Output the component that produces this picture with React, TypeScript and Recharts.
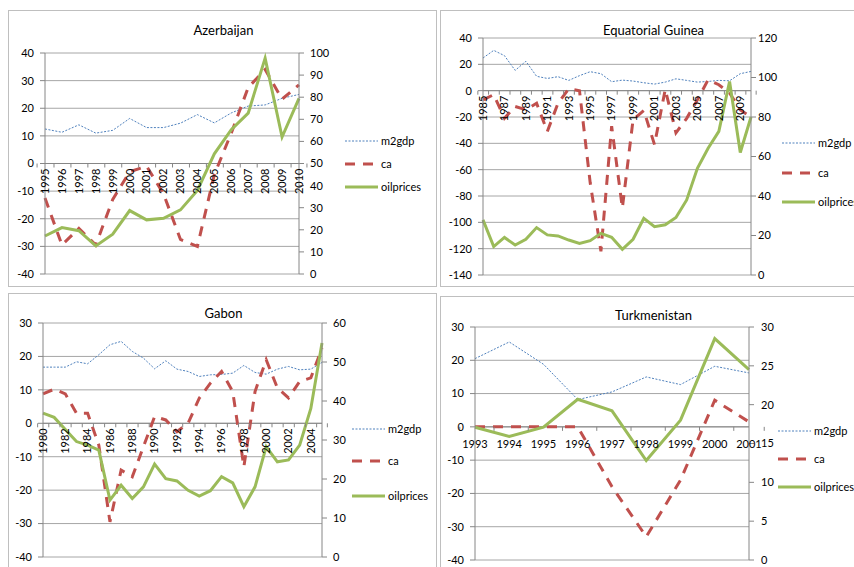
import { CartesianGrid, Line, LineChart, ReferenceLine, XAxis, YAxis } from "recharts";

// Azerbaijan
const AZ_YEARS = ["1995", "1996", "1997", "1998", "1999", "2000", "2001", "2002", "2003", "2004", "2005", "2006", "2007", "2008", "2009", "2010"];
const AZ_M2GDP = [12.5, 11.3, 14, 11, 12, 16.3, 13, 13, 14.6, 17.7, 14.7, 18.3, 20.8, 21.2, 23.6, 25];
const AZ_CA = [-12.5, -29.5, -23.5, -29.5, -13, -3, -1, -11, -27.5, -30, -4, 11, 27.5, 34, 23.3, 28.5];
const AZ_OIL = [17.2, 21, 19.6, 12.7, 18, 28.7, 24.5, 25.2, 29, 37.8, 54.4, 65.3, 72.8, 97.7, 62, 79.5];

// Equatorial Guinea
const EG_YEARS = ["1985", "1986", "1987", "1988", "1989", "1990", "1991", "1992", "1993", "1994", "1995", "1996", "1997", "1998", "1999", "2000", "2001", "2002", "2003", "2004", "2005", "2006", "2007", "2008", "2009", "2010"];
const EG_M2GDP = [24.8, 30.6, 26.6, 15.4, 22.3, 10.9, 9.3, 10.6, 7.8, 11.4, 14.4, 12.9, 6.8, 8, 7.3, 6, 5, 6.5, 9, 7.8, 6.5, 7, 7.8, 7.5, 12.9, 14.6];
const EG_CA = [-7, -3, -21, -12, -14.5, -9.5, -31, -9.5, 1.5, 0, -70, -122, -27, -89, -22, -15, -41, 1, -32, -21, -7, 8.3, 4.5, -1.8, -14.6, -20];
const EG_OIL = [27.9, 14.4, 19, 15.2, 18.1, 24, 20.3, 19.8, 17.7, 16, 17.4, 21.1, 19.1, 13, 18.1, 28.7, 24.5, 25.4, 29.1, 38, 54, 64.2, 72.7, 98, 62, 80];

// Gabon
const GA_YEARS = ["1980", "1981", "1982", "1983", "1984", "1985", "1986", "1987", "1988", "1989", "1990", "1991", "1992", "1993", "1994", "1995", "1996", "1997", "1998", "1999", "2000", "2001", "2002", "2003", "2004", "2005"];
const GA_M2GDP = [16.8, 16.8, 16.8, 18.4, 17.8, 20.5, 23.5, 24.5, 21.5, 19.5, 16.3, 18.7, 16.2, 15.5, 14, 14.5, 14.6, 15, 17.3, 15.2, 14.7, 16.2, 17, 16, 16.2, 18.2];
const GA_CA = [8.8, 10.2, 8.8, 3, 3, -6.5, -29.5, -14, -16, -7, 2, 1, -2.5, 0, 7.5, 12, 15.5, 9.5, -13, 9.5, 19, 10.6, 7.6, 12.5, 13.6, 22.5];
const GA_OIL = [36.9, 35.8, 32.7, 29.6, 28.7, 27.4, 14.6, 18.4, 15, 18, 23.8, 20.1, 19.5, 17.1, 15.6, 17, 20.6, 19, 12.9, 18, 28.3, 24.4, 24.9, 28.7, 38.1, 54.9];

// Turkmenistan
const TK_YEARS = ["1993", "1994", "1995", "1996", "1997", "1998", "1999", "2000", "2001"];
const TK_M2GDP = [20.5, 25.5, 18.8, 8.2, 10.5, 15, 12.7, 18.2, 16.2];
const TK_CA = [0, 0, 0, 0, -18, -33, -16, 8, 1.5];
const TK_OIL = [17.1, 15.9, 17.1, 20.7, 19.2, 12.8, 18, 28.5, 24.5];

const AZ_LEFT_TICKS = [-40, -30, -20, -10, 0, 10, 20, 30, 40];
const AZ_RIGHT_TICKS = [0, 10, 20, 30, 40, 50, 60, 70, 80, 90, 100];
const EG_LEFT_TICKS = [-140, -120, -100, -80, -60, -40, -20, 0, 20, 40];
const EG_RIGHT_TICKS = [0, 20, 40, 60, 80, 100, 120];
const GA_LEFT_TICKS = [-40, -30, -20, -10, 0, 10, 20, 30];
const GA_RIGHT_TICKS = [0, 10, 20, 30, 40, 50, 60];
const TK_LEFT_TICKS = [-40, -30, -20, -10, 0, 10, 20, 30];
const TK_RIGHT_TICKS = [0, 5, 10, 15, 20, 25, 30];

const FONT = "Lato, 'Open Sans', sans-serif";
const BLUE = "#4f81bd";
const RED = "#c0504d";
const GREEN = "#9bbb59";
const GRID = "#a6a6a6";
const AXIS = "#868686";
const LEFT_W = 30;
const RIGHT_W = 30;

function rows(years: string[], m2: number[], ca: number[], oil: number[]) {
  return years.map((year, i) => ({ year, m2gdp: m2[i], ca: ca[i], oilprices: oil[i] }));
}

interface PanelProps {
  title: string;
  box: { x: number; y: number; w: number; h: number };
  plot: { l: number; r: number; t: number; b: number };
  data: { year: string; m2gdp: number; ca: number; oilprices: number }[];
  leftTicks: number[];
  rightTicks: number[];
  rotate: boolean;
  labelEvery: number;
  rightGap: number;
  legendY: number[];
  legendX: number;
  titleY: number;
}

function Panel(p: PanelProps) {
  const { box, plot } = p;
  const yMin = p.leftTicks[0];
  const yMax = p.leftTicks[p.leftTicks.length - 1];
  const zeroY = plot.t + ((plot.b - plot.t) * yMax) / (yMax - yMin);
  const band = (plot.r - plot.l) / p.data.length;

  const renderTick = (props: any) => {
    const { x, index, payload } = props;
    const showLabel = index % p.labelEvery === 0;
    return (
      <g>
        <line x1={x - band / 2} x2={x - band / 2} y1={zeroY} y2={zeroY + 4} stroke={AXIS} />
        {index === p.data.length - 1 && (
          <line x1={x + band / 2} x2={x + band / 2} y1={zeroY} y2={zeroY + 4} stroke={AXIS} />
        )}
        {showLabel &&
          (p.rotate ? (
            <text
              x={x}
              y={zeroY + 5}
              transform={`rotate(-90, ${x}, ${zeroY + 5})`}
              textAnchor="end"
              dy="0.35em"
              fontSize={11}
              fill="#000"
              fontFamily={FONT}
            >
              {payload.value}
            </text>
          ) : (
            <text x={x} y={zeroY + 21} textAnchor="middle" fontSize={11} fill="#000" fontFamily={FONT}>
              {payload.value}
            </text>
          ))}
      </g>
    );
  };

  const legend = [
    { name: "m2gdp", color: BLUE, width: 1, dash: "2 1.5" },
    { name: "ca", color: RED, width: 3, dash: "10 8" },
    { name: "oilprices", color: GREEN, width: 3, dash: undefined },
  ];

  return (
    <div
      style={{
        position: "absolute",
        left: box.x,
        top: box.y,
        width: box.w,
        height: box.h,
        border: "1px solid #bfbfbf",
        boxSizing: "border-box",
        background: "#fff",
        fontFamily: FONT,
      }}
    >
      <div
        style={{
          position: "absolute",
          left: 0,
          width: box.w,
          top: p.titleY - 9,
          textAlign: "center",
          fontSize: 13,
          color: "#000",
        }}
      >
        {p.title}
      </div>
      <div style={{ position: "absolute", left: -1, top: -1 }}>
        <LineChart
          width={box.w}
          height={box.h}
          data={p.data}
          margin={{
            top: plot.t,
            bottom: box.h - plot.b - 1,
            left: plot.l - LEFT_W,
            right: box.w - plot.r - RIGHT_W,
          }}
        >
          <CartesianGrid yAxisId="left" vertical={false} stroke={GRID} />
          <XAxis
            dataKey="year"
            height={1}
            axisLine={false}
            tickLine={false}
            interval={0}
            tick={renderTick}
          />
          <YAxis
            yAxisId="left"
            type="number"
            domain={[yMin, yMax]}
            ticks={p.leftTicks}
            width={LEFT_W}
            stroke={AXIS}
            tickSize={5}
            tickMargin={6}
            tick={{ fontSize: 11, fill: "#000", fontFamily: FONT }}
          />
          <YAxis
            yAxisId="right"
            orientation="right"
            type="number"
            domain={[p.rightTicks[0], p.rightTicks[p.rightTicks.length - 1]]}
            ticks={p.rightTicks}
            width={RIGHT_W}
            stroke={AXIS}
            tickSize={5}
            tickMargin={p.rightGap}
            tick={{ fontSize: 11, fill: "#000", fontFamily: FONT, textAnchor: "start" }}
          />
          <ReferenceLine yAxisId="left" y={0} stroke={AXIS} />
          <Line
            yAxisId="left"
            type="linear"
            dataKey="m2gdp"
            stroke={BLUE}
            strokeWidth={1}
            strokeDasharray="2 1.5"
            dot={false}
            isAnimationActive={false}
          />
          <Line
            yAxisId="left"
            type="linear"
            dataKey="ca"
            stroke={RED}
            strokeWidth={3}
            strokeDasharray="10 8"
            dot={false}
            isAnimationActive={false}
          />
          <Line
            yAxisId="right"
            type="linear"
            dataKey="oilprices"
            stroke={GREEN}
            strokeWidth={3}
            dot={false}
            isAnimationActive={false}
          />
        </LineChart>
      </div>
      <svg
        width={box.w}
        height={box.h}
        style={{ position: "absolute", left: -1, top: -1, pointerEvents: "none" }}
      >
        {legend.map((item, i) => (
          <g key={item.name}>
            <line
              x1={p.legendX}
              x2={p.legendX + 33}
              y1={p.legendY[i]}
              y2={p.legendY[i]}
              stroke={item.color}
              strokeWidth={item.width}
              strokeDasharray={item.dash}
            />
            <text x={p.legendX + 36} y={p.legendY[i]} dy="0.35em" fontSize={11} fill="#000" fontFamily={FONT}>
              {item.name}
            </text>
          </g>
        ))}
      </svg>
    </div>
  );
}

export default function App() {
  return (
    <div
      style={{
        position: "absolute",
        left: 0,
        top: 0,
        width: 854,
        height: 567,
        overflow: "hidden",
        background: "#fff",
      }}
    >
      <Panel
        title="Azerbaijan"
        box={{ x: 8, y: 10, w: 429, h: 277 }}
        plot={{ l: 37, r: 291, t: 43, b: 264 }}
        data={rows(AZ_YEARS, AZ_M2GDP, AZ_CA, AZ_OIL)}
        leftTicks={AZ_LEFT_TICKS}
        rightTicks={AZ_RIGHT_TICKS}
        rotate
        labelEvery={1}
        rightGap={6}
        legendY={[131, 154, 177]}
        legendX={337}
        titleY={20}
      />
      <Panel
        title="Equatorial Guinea"
        box={{ x: 440, y: 10, w: 425, h: 277 }}
        plot={{ l: 43, r: 311, t: 28, b: 265 }}
        data={rows(EG_YEARS, EG_M2GDP, EG_CA, EG_OIL)}
        leftTicks={EG_LEFT_TICKS}
        rightTicks={EG_RIGHT_TICKS}
        rotate
        labelEvery={2}
        rightGap={2}
        legendY={[133, 163, 192]}
        legendX={342}
        titleY={20}
      />
      <Panel
        title="Gabon"
        box={{ x: 8, y: 293, w: 429, h: 280 }}
        plot={{ l: 35, r: 314, t: 30, b: 264 }}
        data={rows(GA_YEARS, GA_M2GDP, GA_CA, GA_OIL)}
        leftTicks={GA_LEFT_TICKS}
        rightTicks={GA_RIGHT_TICKS}
        rotate
        labelEvery={2}
        rightGap={6}
        legendY={[136, 168, 203]}
        legendX={344}
        titleY={20}
      />
      <Panel
        title="Turkmenistan"
        box={{ x: 440, y: 296, w: 425, h: 280 }}
        plot={{ l: 35, r: 309, t: 31, b: 264 }}
        data={rows(TK_YEARS, TK_M2GDP, TK_CA, TK_OIL)}
        leftTicks={TK_LEFT_TICKS}
        rightTicks={TK_RIGHT_TICKS}
        rotate={false}
        labelEvery={1}
        rightGap={7}
        legendY={[135, 163, 191]}
        legendX={338}
        titleY={19}
      />
    </div>
  );
}
